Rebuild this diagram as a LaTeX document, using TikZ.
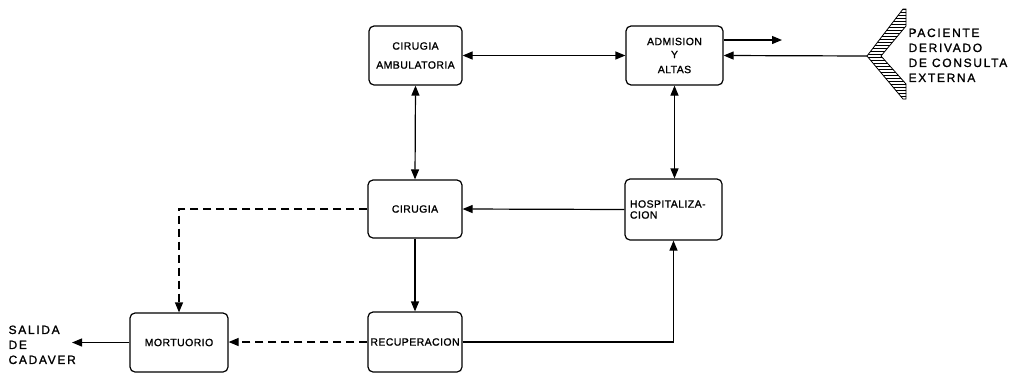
\documentclass[tikz,border=0pt]{standalone}
\usepackage{fontspec}
\setmainfont{Liberation Sans}
\newfontfamily\boxfont[LetterSpace=4,FakeBold=1.2]{Liberation Sans}
\newfontfamily\plotfont[LetterSpace=14,FakeBold=1.2]{Liberation Sans}
\usetikzlibrary{arrows.meta,patterns}
\begin{document}
\begin{tikzpicture}[x=1pt,y=-1pt,
  line width=1.2pt,
  >={Triangle[length=10pt,width=8pt]},
  blk/.style={draw,rounded corners=5pt,font=\boxfont\fontsize{10.5}{12}\selectfont,inner sep=0pt},
  lbl/.style={font=\plotfont\fontsize{12}{15}\selectfont,align=left,anchor=north west,inner sep=0pt},
  dsh/.style={dash pattern=on 8pt off 5pt}]
\useasboundingbox (0,0) rectangle (1015,373);
% boxes
\node[blk,minimum width=93pt,minimum height=59pt,align=center] (amb) at (415.5,55.5) {CIRUGIA\\[7pt]AMBULATORIA};
\node[blk,minimum width=97pt,minimum height=59pt,align=center] (adm) at (674.5,55.5) {ADMISION\\[1pt]Y\\[3pt]ALTAS};
\node[blk,minimum width=94pt,minimum height=58pt] (cir) at (415,209) {CIRUGIA};
\node[blk,minimum width=97pt,minimum height=61pt,text width=87pt,align=left] (hos) at (673.5,209.5) {HOSPITALIZA-\\[-1pt]CION};
\node[blk,minimum width=94pt,minimum height=60pt] (rec) at (415,342) {RECUPERACION};
\node[blk,minimum width=98pt,minimum height=59pt] (mor) at (179,342.5) {MORTUORIO};
% chevron
\filldraw[line width=0.8pt,pattern=horizontal lines] (867,56) -- (903,9) -- (906,9) -- (906,26) -- (881,56) -- (906,84) -- (906,99) -- (903,99) -- cycle;
\coordinate (ch) at (867,56);
\coordinate (out) at (782,40);
\coordinate (sal) at (72,342.5);
\node[lbl] (pac) at (908,28) {PACIENTE\\DERIVADO\\DE CONSULTA\\EXTERNA};
\node[lbl] (sl) at (8,325) {SALIDA\\DE\\CADAVER};
% connectors
\draw[<->] (amb.east) -- (adm.west);
\draw[->] (adm.east |- out) -- (out);
\draw[->] (ch) -- (adm.east);
\draw[<->] (amb.south) -- (cir.north);
\draw[<->] (adm.south) -- (adm.south |- hos.north);
\draw[->] (hos.west) -- (cir.east);
\draw[->] (cir.south) -- (rec.north);
\draw[->] (rec.east) -| (hos.south);
\draw[->,dsh] (cir.west) -| (mor.north);
\draw[->,dsh] (rec.west) -- (rec.west -| mor.east);
\draw[->] (mor.west) -- (sal);
\end{tikzpicture}
\end{document}
